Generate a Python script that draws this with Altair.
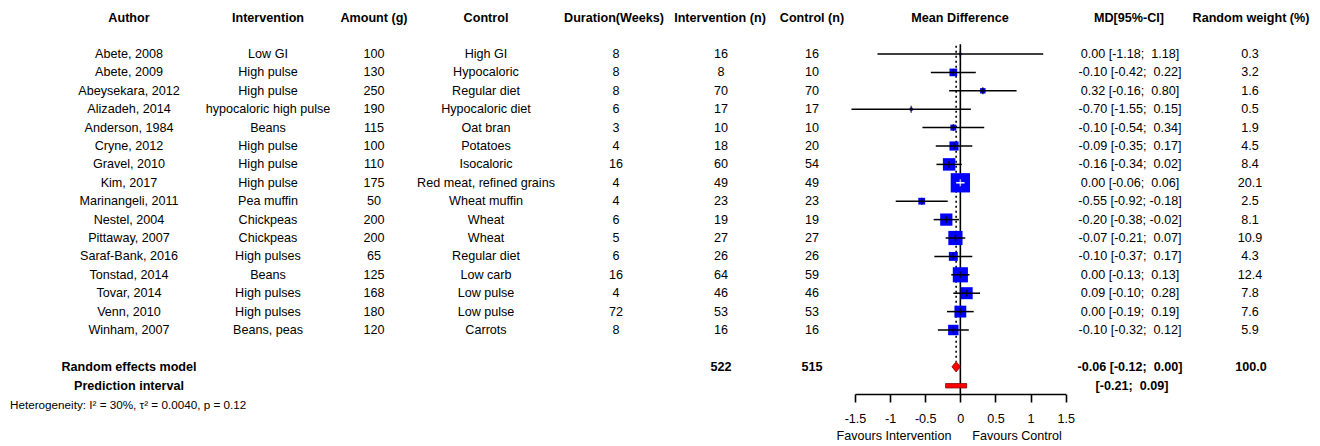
import altair as alt
import pandas as pd

FONT = "Liberation Sans"
FS = 12.6

# ---------------- data ----------------
authors = ["Abete, 2008", "Abete, 2009", "Abeysekara, 2012", "Alizadeh, 2014", "Anderson, 1984",
           "Cryne, 2012", "Gravel, 2010", "Kim, 2017", "Marinangeli, 2011", "Nestel, 2004",
           "Pittaway, 2007", "Saraf-Bank, 2016", "Tonstad, 2014", "Tovar, 2014", "Venn, 2010",
           "Winham, 2007"]
interventions = ["Low GI", "High pulse", "High pulse", "hypocaloric high pulse", "Beans", "High pulse",
                 "High pulse", "High pulse", "Pea muffin", "Chickpeas", "Chickpeas", "High pulses",
                 "Beans", "High pulses", "High pulses", "Beans, peas"]
amounts = [100, 130, 250, 190, 115, 100, 110, 175, 50, 200, 200, 65, 125, 168, 180, 120]
controls = ["High GI", "Hypocaloric", "Regular diet", "Hypocaloric diet", "Oat bran", "Potatoes",
            "Isocaloric", "Red meat, refined grains", "Wheat muffin", "Wheat", "Wheat", "Regular diet",
            "Low carb", "Low pulse", "Low pulse", "Carrots"]
durations = [8, 8, 8, 6, 3, 4, 16, 4, 4, 6, 5, 6, 16, 4, 72, 8]
n_int = [16, 8, 70, 17, 10, 18, 60, 49, 23, 19, 27, 26, 64, 46, 53, 16]
n_ctl = [16, 10, 70, 17, 10, 20, 54, 49, 23, 19, 27, 26, 59, 46, 53, 16]
md = [0.00, -0.10, 0.32, -0.70, -0.10, -0.09, -0.16, 0.00, -0.55, -0.20, -0.07, -0.10, 0.00, 0.09, 0.00, -0.10]
lo = [-1.18, -0.42, -0.16, -1.55, -0.54, -0.35, -0.34, -0.06, -0.92, -0.38, -0.21, -0.37, -0.13, -0.10, -0.19, -0.32]
hi = [1.18, 0.22, 0.80, 0.15, 0.34, 0.17, 0.02, 0.06, -0.18, -0.02, 0.07, 0.17, 0.13, 0.28, 0.19, 0.12]
weights = [0.3, 3.2, 1.6, 0.5, 1.9, 4.5, 8.4, 20.1, 2.5, 8.1, 10.9, 4.3, 12.4, 7.8, 7.6, 5.9]

pooled_md, pooled_lo, pooled_hi = -0.06, -0.12, 0.00
pi_lo, pi_hi = -0.21, 0.09
total_int, total_ctl = 522, 515
total_weight = 100.0
heterogeneity = "Heterogeneity: I\u00b2 = 30%, \u03c4\u00b2 = 0.0040, p = 0.12"

headers = ["Author", "Intervention", "Amount (g)", "Control", "Duration(Weeks)", "Intervention (n)",
           "Control (n)", "Mean Difference", "MD[95%-CI]", "Random weight (%)"]
TICKS = [-1.5, -1, -0.5, 0, 0.5, 1, 1.5]
favours = ["Favours Intervention", "Favours Control"]


def ci_text(m, l, h):
    s = f"{m:.2f} [{l:5.2f}; {h:5.2f}]"
    return s.replace("  ", " \u00a0")


df = pd.DataFrame({
    "row": list(range(1, len(authors) + 1)),
    "author": authors, "intervention": interventions, "amount": [str(a) for a in amounts],
    "control": controls, "duration": [str(d) for d in durations],
    "n_int": [str(n) for n in n_int], "n_ctl": [str(n) for n in n_ctl],
    "md": md, "lo": lo, "hi": hi, "weight": weights,
})
df["ci_txt"] = [ci_text(m, l, h) for m, l, h in zip(md, lo, hi)]
df["w_txt"] = [f"{w:.1f}" for w in weights]

# ---------------- scales ----------------
XS = alt.Scale(domain=[-1.5, 1.5], range=[847, 1057.7], nice=False, zero=False)
YS = alt.Scale(domain=[1, 16], range=[46, 322], nice=False, zero=False)
AX = alt.Axis(values=TICKS, title=None, grid=False,
              labelExpr="(datum.value < 0 ? '-' : '') + abs(datum.value)",
              labelFont=FONT, labelFontSize=FS, labelColor="black",
              domainColor="black", tickColor="black", domainWidth=1.6, tickWidth=1.6,
              tickSize=8, labelPadding=10, labelFlush=False, labelOverlap=False)


def X(field):
    return alt.X(f"{field}:Q", scale=XS, axis=AX)


def Y(field="row"):
    return alt.Y(f"{field}:Q", scale=YS, axis=None)


def text_layer(data, field, x, bold=False, align="center", size=FS):
    return alt.Chart(data).mark_text(
        font=FONT, fontSize=size, fontWeight="bold" if bold else "normal",
        align=align, baseline="middle", color="black"
    ).encode(x=alt.value(x), y=Y("row"), text=f"{field}:N")


def label_df(label, row):
    return pd.DataFrame({"label": [label], "row": [row]})


layers = []

# headers
HEADER_ROW = -0.96
header_x = [121, 260, 366, 478, 606, 712, 804, 952, 1121, 1243]
for h, hx in zip(headers, header_x):
    layers.append(text_layer(label_df(h, HEADER_ROW), "label", hx, bold=True))

# study table columns
col_fields = ["author", "intervention", "amount", "control", "duration", "n_int", "n_ctl", "ci_txt", "w_txt"]
col_x = [121, 260, 366, 478, 608, 713, 804, 1122, 1242]
for f, cx in zip(col_fields, col_x):
    layers.append(text_layer(df, f, cx))

# summary rows
SUM_ROW, PI_ROW, HET_ROW, FAV_ROW = 18, 19.03, 20.1, 21.75
layers.append(text_layer(label_df("Random effects model", SUM_ROW), "label", 121, bold=True))
layers.append(text_layer(label_df(str(total_int), SUM_ROW), "label", 713, bold=True))
layers.append(text_layer(label_df(str(total_ctl), SUM_ROW), "label", 804, bold=True))
layers.append(text_layer(label_df(ci_text(pooled_md, pooled_lo, pooled_hi), SUM_ROW), "label", 1122, bold=True))
layers.append(text_layer(label_df(f"{total_weight:.1f}", SUM_ROW), "label", 1243, bold=True))
layers.append(text_layer(label_df("Prediction interval", PI_ROW), "label", 121, bold=True))
pi_txt = f"[{pi_lo:5.2f}; {pi_hi:5.2f}]".replace("  ", " \u00a0")
layers.append(text_layer(label_df(pi_txt, PI_ROW), "label", 1124, bold=True))
layers.append(text_layer(label_df(heterogeneity, HET_ROW), "label", 2, align="left", size=11.7))
layers.append(text_layer(label_df(favours[0], FAV_ROW), "label", 886))
layers.append(text_layer(label_df(favours[1], FAV_ROW), "label", 1009))

# forest plot
ref = pd.DataFrame({"x": [0.0], "y": [0.47], "y2": [19.48]})
layers.append(alt.Chart(ref).mark_rule(color="black", strokeWidth=1.6).encode(
    x=X("x"), y=Y("y"), y2="y2:Q"))

dot = pd.DataFrame({"x": [pooled_md], "y": [0.55], "y2": [SUM_ROW - 0.27]})
layers.append(alt.Chart(dot).mark_rule(color="black", strokeWidth=1.6, strokeDash=[2, 3]).encode(
    x=X("x"), y=Y("y"), y2="y2:Q"))

layers.append(alt.Chart(df).mark_square(filled=True, color="#0000FF", opacity=1).encode(
    x=X("md"), y=Y("row"),
    size=alt.Size("weight:Q", scale=alt.Scale(domain=[0, 100], range=[0, 1850]), legend=None)))

inside = "(datum.hi - datum.lo) * 70.2 < 4.3 * sqrt(datum.weight)"
layers.append(alt.Chart(df).mark_rule(strokeWidth=1.5).encode(
    x=X("lo"), x2="hi:Q", y=Y("row"),
    color=alt.condition(inside, alt.value("white"), alt.value("black"))))
layers.append(alt.Chart(df).mark_tick(orient="vertical", size=7, thickness=1.5).encode(
    x=X("md"), y=Y("row"),
    color=alt.condition(inside, alt.value("white"), alt.value("black"))))

diamond = pd.DataFrame({
    "x": [pooled_lo, pooled_md, pooled_hi],
    "y": [SUM_ROW, SUM_ROW - 0.28, SUM_ROW],
    "y2": [SUM_ROW, SUM_ROW + 0.28, SUM_ROW],
})
layers.append(alt.Chart(diamond).mark_area(color="#FF0000", stroke="#8B0000", strokeWidth=0.8, opacity=1).encode(
    x=X("x"), y=Y("y"), y2="y2:Q"))

pi = pd.DataFrame({"lo": [pi_lo], "hi": [pi_hi], "y": [PI_ROW - 0.12], "y2": [PI_ROW + 0.12]})
layers.append(alt.Chart(pi).mark_rect(color="#FF0000", stroke="#8B0000", strokeWidth=0.8).encode(
    x=X("lo"), x2="hi:Q", y=Y("y"), y2="y2:Q"))

chart = alt.layer(*layers).properties(
    width=1304, height=386,
    autosize=alt.AutoSizeParams(type="none"),
    padding={"left": 0, "top": 0, "right": 0, "bottom": 52},
    background="white",
).configure_view(strokeWidth=0)

chart.save("out.html", embed_options={"renderer": "svg", "actions": False})
